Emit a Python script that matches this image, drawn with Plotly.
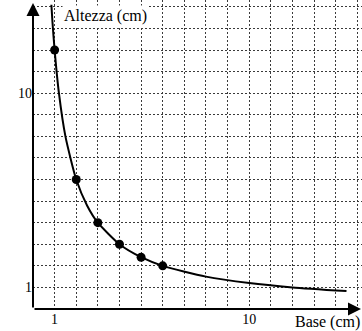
import plotly.graph_objects as go

# measured points (Base, Altezza)
point_x = [1, 2, 3, 4, 5, 6]
point_y = [12, 6, 4, 3, 2.4, 2]

# curve
curve_x = [0.85, 0.9, 1, 1.2, 1.5, 2, 2.5, 3, 4, 5, 6, 8, 10, 12, 14.5]
curve_y = [14.1, 13.3, 12, 10, 8, 6, 4.8, 4, 3, 2.4, 2, 1.5, 1.2, 1.0, 0.83]

tick_vals = [1, 10]
tick_text = ["1", "10"]

FONT = "Liberation Serif"
GRID = "#3a3a3a"

fig = go.Figure()
fig.add_trace(go.Scatter(x=curve_x, y=curve_y, mode="lines",
                         line=dict(color="black", width=2, shape="spline", smoothing=0.6),
                         hoverinfo="skip", showlegend=False))
fig.add_trace(go.Scatter(x=point_x, y=point_y, mode="markers",
                         marker=dict(color="black", size=9), showlegend=False))

PX = 21.6
W, H = 362, 331
ml, mb = 33.3, 21.7
xmax = (W - ml) / PX
ymax = (H - mb) / PX

axis_common = dict(
    showline=False, zeroline=False, ticks="",
    showgrid=True, gridcolor=GRID, gridwidth=1, griddash="2px,2px",
    minor=dict(dtick=1, showgrid=True, gridcolor=GRID, gridwidth=1, griddash="2px,2px"),
    tickfont=dict(family=FONT, size=14, color="black"),
    tickmode="array", tickvals=tick_vals, ticktext=tick_text,
    fixedrange=True,
)
fig.update_layout(
    width=W, height=H,
    margin=dict(l=ml, r=W - ml - xmax * PX, t=0, b=mb, pad=0),
    paper_bgcolor="white", plot_bgcolor="white",
    xaxis=dict(range=[0, xmax], **axis_common),
    yaxis=dict(range=[0, ymax], **axis_common),
    font=dict(family=FONT, color="black"),
)
fig.update_xaxes(minor_tick0=0)
fig.update_yaxes(minor_tick0=0)

# axis arrows
fig.add_annotation(x=0, y=(H - mb - 3) / PX, ax=0, ay=0, xref="x", yref="y", axref="x", ayref="y",
                   showarrow=True, arrowhead=2, arrowsize=1.3, arrowwidth=2, arrowcolor="black", text="")
fig.add_annotation(x=(W - 1 - ml) / PX, y=0, ax=0, ay=0, xref="x", yref="y", axref="x", ayref="y",
                   showarrow=True, arrowhead=2, arrowsize=1.3, arrowwidth=2, arrowcolor="black", text="")

fig.add_annotation(x=1.33, y=13.6, xref="x", yref="y", text="Altezza (cm)", showarrow=False,
                   xanchor="left", yanchor="middle", bgcolor="white",
                   font=dict(family=FONT, size=16, color="black"))
fig.add_annotation(x=1, y=0, xref="paper", yref="paper", yshift=-13, text="Base (cm)", showarrow=False,
                   xanchor="right", yanchor="middle",
                   font=dict(family=FONT, size=16, color="black"))

fig.write_html("out.html", config={"displayModeBar": False},
               post_script="document.body.style.margin='0';document.body.style.overflow='hidden';")
